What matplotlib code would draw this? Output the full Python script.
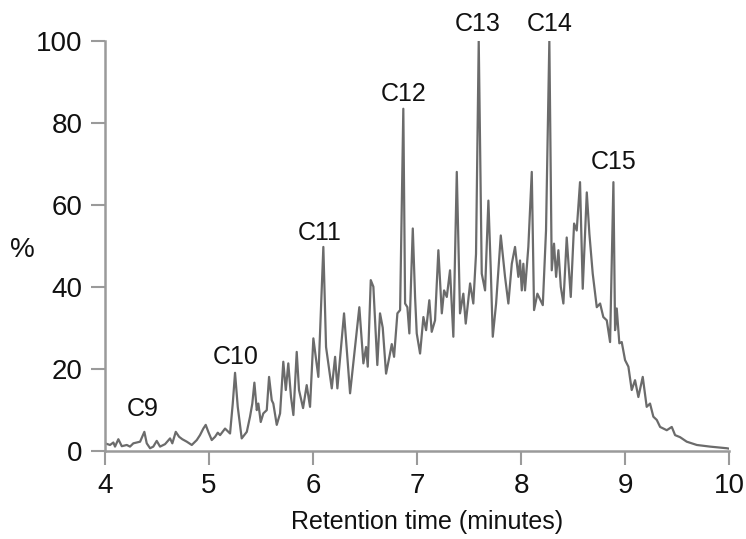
import numpy as np
import matplotlib.pyplot as plt

# retention time (minutes) and relative abundance (%)
time = [4.000, 4.048, 4.080, 4.096, 4.128, 4.161, 4.209, 4.240, 4.272, 4.337,
        4.378, 4.401, 4.433, 4.464, 4.497, 4.529, 4.577, 4.625, 4.647, 4.680,
        4.712, 4.743, 4.786, 4.834, 4.882, 4.913, 4.945, 4.968, 4.993, 5.026,
        5.058, 5.084, 5.106, 5.154, 5.202, 5.228, 5.250, 5.276, 5.314, 5.363,
        5.394, 5.416, 5.436, 5.459, 5.474, 5.497, 5.522, 5.555, 5.577, 5.603,
        5.618, 5.651, 5.683, 5.714, 5.738, 5.762, 5.788, 5.811, 5.843, 5.865,
        5.904, 5.939, 5.971, 6.003, 6.051, 6.099, 6.125, 6.180, 6.212, 6.234,
        6.298, 6.356, 6.445, 6.484, 6.510, 6.526, 6.555, 6.580, 6.618, 6.644,
        6.670, 6.702, 6.734, 6.757, 6.779, 6.811, 6.837, 6.868, 6.885, 6.907,
        6.926, 6.959, 6.981, 6.997, 7.029, 7.061, 7.087, 7.118, 7.141, 7.173,
        7.205, 7.238, 7.260, 7.286, 7.317, 7.349, 7.382, 7.413, 7.445, 7.468,
        7.510, 7.541, 7.567, 7.593, 7.622, 7.654, 7.686, 7.709, 7.728, 7.760,
        7.805, 7.846, 7.878, 7.911, 7.942, 7.974, 7.990, 8.007, 8.022, 8.038,
        8.070, 8.103, 8.125, 8.157, 8.209, 8.240, 8.272, 8.295, 8.317, 8.337,
        8.359, 8.382, 8.407, 8.439, 8.478, 8.510, 8.535, 8.567, 8.593, 8.632,
        8.657, 8.689, 8.728, 8.760, 8.791, 8.824, 8.856, 8.888, 8.904, 8.920,
        8.945, 8.968, 9.000, 9.032, 9.064, 9.096, 9.128, 9.170, 9.208, 9.240,
        9.272, 9.305, 9.337, 9.401, 9.449, 9.481, 9.529, 9.593, 9.690, 9.817,
        9.978, 10.000]
abundance = [1.8, 1.4, 2.0, 1.0, 2.8, 1.1, 1.4, 1.0, 1.8, 2.2,
             4.6, 1.8, 0.6, 1.0, 2.4, 1.0, 1.6, 3.0, 1.8, 4.6,
             3.4, 2.8, 2.2, 1.4, 2.6, 3.8, 5.4, 6.3, 4.6, 2.6,
             3.4, 4.4, 3.8, 5.4, 4.2, 11.5, 19.0, 10.7, 3.0, 4.6,
             8.3, 11.5, 16.6, 9.9, 11.5, 7.0, 9.1, 9.9, 18.0, 12.3,
             11.5, 6.3, 9.1, 21.7, 14.8, 21.3, 13.1, 8.7, 24.1, 14.8,
             10.4, 16.0, 10.7, 27.4, 18.0, 49.7, 25.3, 15.2, 22.9, 15.2,
             33.5, 14.0, 35.0, 21.3, 25.3, 20.5, 41.6, 40.0, 20.9, 33.5,
             30.0, 18.8, 22.9, 26.0, 22.9, 33.5, 34.3, 83.4, 35.9, 35.0,
             28.6, 54.2, 37.5, 28.6, 23.7, 32.6, 29.4, 36.7, 29.0, 31.8,
             48.9, 33.5, 39.1, 37.5, 44.0, 27.8, 68.0, 33.5, 38.3, 31.0,
             40.8, 35.9, 48.0, 100.0, 43.2, 39.1, 61.0, 44.0, 27.8, 35.9,
             52.5, 42.4, 35.9, 45.6, 49.7, 42.4, 46.4, 39.1, 45.6, 39.1,
             49.7, 68.0, 34.3, 38.3, 35.5, 53.7, 100.0, 44.0, 50.5, 42.4,
             48.9, 40.0, 35.9, 52.0, 37.5, 55.4, 53.7, 65.5, 39.5, 63.0,
             52.9, 43.2, 35.0, 35.9, 32.6, 31.8, 26.5, 65.5, 29.4, 34.7,
             26.2, 26.5, 22.1, 20.5, 14.8, 17.2, 13.1, 18.0, 10.7, 11.5,
             8.3, 7.5, 5.8, 5.0, 5.8, 3.8, 3.3, 2.2, 1.4, 1.0,
             0.6, 0.5]

# peak labels and where they sit
peak_names = ["C9", "C10", "C11", "C12", "C13", "C14", "C15"]
label_t = [4.365, 5.26, 6.06, 6.875, 7.585, 8.28, 8.89]
label_y = [10.2, 22.8, 53.0, 87.0, 104.0, 104.0, 70.5]

plt.rcParams['font.family'] = ['Liberation Sans', 'DejaVu Sans']
grey = "#9a9a9a"

fig = plt.figure(figsize=(7.46, 5.39), dpi=100)
ax = fig.add_axes([0.1408, 0.1638, 0.8365, 0.7607])

ax.plot(time, abundance, color="#6b6b6b", lw=1.6)

for name, t, y in zip(peak_names, label_t, label_y):
    ax.text(t, y, name, ha="center", va="center", fontsize=18,
            color="#111111", clip_on=False)

ax.set_xlim(4, 10)
ax.set_ylim(0, 100)
ax.set_xticks(range(4, 11))
ax.set_yticks(range(0, 101, 20))

for side in ["top", "right"]:
    ax.spines[side].set_visible(False)
for side in ["left", "bottom"]:
    ax.spines[side].set_color(grey)
    ax.spines[side].set_linewidth(1.8)

ax.tick_params(direction="out", length=10, width=1.5, color=grey,
               labelsize=20, labelcolor="#111111", pad=6)

ax.set_xlabel("Retention time (minutes)", fontsize=18, color="#111111")
ax.xaxis.set_label_coords(0.516, -0.145)
ax.set_ylabel("%", rotation=0, fontsize=20, color="#111111", va="center")
ax.yaxis.set_label_coords(-0.133, 0.49)

fig.savefig("out.png", dpi=100)
